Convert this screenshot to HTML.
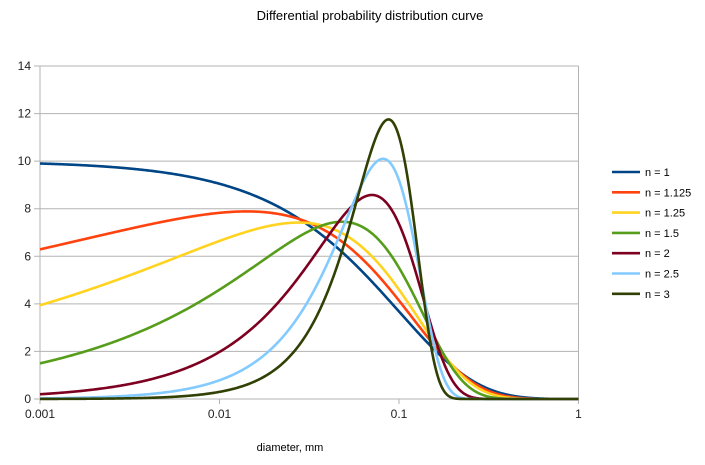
<!DOCTYPE html>
<html><head><meta charset="utf-8"><style>
body{margin:0;background:#fff;}
svg{display:block;font-family:"Liberation Sans",sans-serif;}
</style></head><body>
<svg id="s" width="705" height="465" viewBox="0 0 705 465" xmlns="http://www.w3.org/2000/svg">
<rect width="705" height="465" fill="#fff"/>
<text x="370" y="20" font-size="13" text-anchor="middle" fill="#000">Differential probability distribution curve</text>
<g id="grid" stroke="#b3b3b3" stroke-width="1"></g>
<g id="curves" fill="none" stroke-width="2.6" stroke-linejoin="round"></g>
<g font-size="12" fill="#222" id="labels"></g>
<text x="290" y="451" font-size="11" text-anchor="middle" fill="#000">diameter, mm</text>
<g id="legend" font-size="11" fill="#000"></g>
</svg>
<script>
var NS="http://www.w3.org/2000/svg";
function el(p,t,a,txt){var e=document.createElementNS(NS,t);for(var k in a)e.setAttribute(k,a[k]);if(txt!=null)e.textContent=txt;document.getElementById(p).appendChild(e);return e;}
var X0=40,X1=578.5,Y0=399,Y14=66;
function X(d){return X0+(Math.log10(d)+3)*(X1-X0)/3;}
function Y(v){return Y0-v*(Y0-Y14)/14;}
for(var i=0;i<=14;i+=2){var y=Y(i);el("grid","line",{x1:34,x2:X1,y1:y,y2:y});el("labels","text",{x:31,y:y+4,"text-anchor":"end"},String(i));}
el("grid","line",{x1:X0,x2:X0,y1:Y14,y2:Y0});
el("grid","line",{x1:X1,x2:X1,y1:Y14,y2:Y0+5});
[0.001,0.01,0.1,1].forEach(function(d){var x=X(d);el("grid","line",{x1:x,x2:x,y1:Y0,y2:Y0+5});el("labels","text",{x:x,y:418,"text-anchor":"middle"},String(d));});
var ns=[1,1.125,1.25,1.5,2,2.5,3],cols=["#004586","#ff420e","#ffd320","#579d1c","#7e0021","#83caff","#314004"];
ns.forEach(function(n,k){var pts=[];for(var i=0;i<=600;i++){var d=Math.pow(10,-3+3*i/600);var u=d/0.1;var f=n/0.1*Math.pow(u,n-1)*Math.exp(-Math.pow(u,n));pts.push(X(d).toFixed(2)+","+Y(f).toFixed(2));}
el("curves","polyline",{points:pts.join(" "),stroke:cols[k]});
var ly=172+k*20.3;el("legend","line",{x1:612,x2:640,y1:ly,y2:ly,stroke:cols[k],"stroke-width":2.6});el("legend","text",{x:645,y:ly+4},"n = "+n);});
</script>
</body></html>
